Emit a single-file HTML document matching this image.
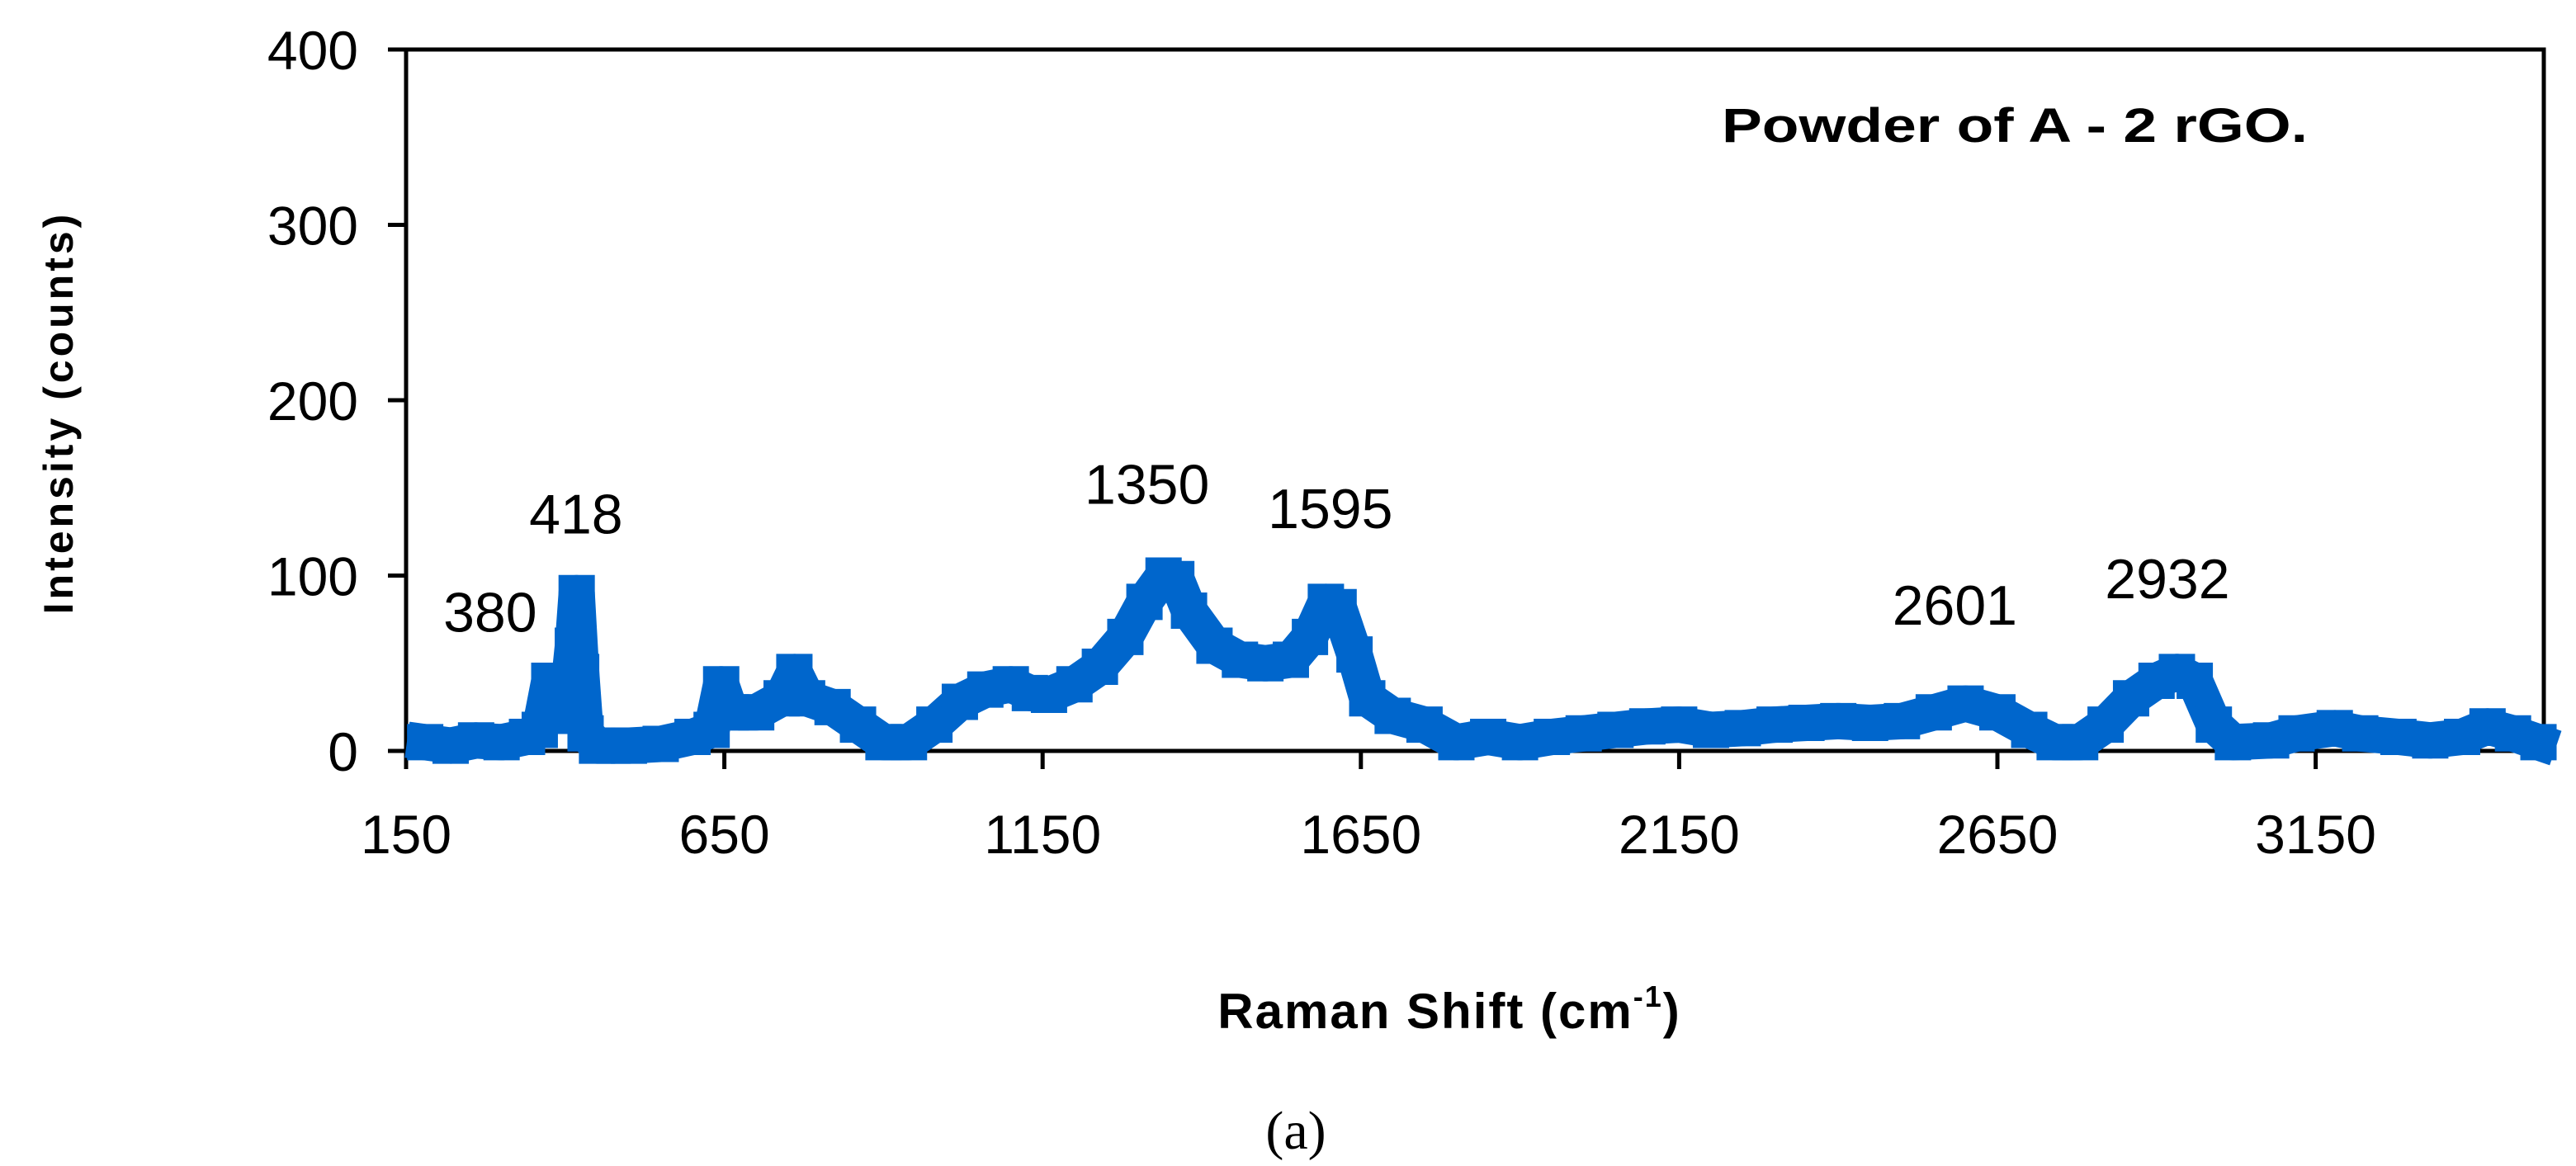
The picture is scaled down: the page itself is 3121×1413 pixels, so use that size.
<!DOCTYPE html>
<html><head><meta charset="utf-8"><style>
body{margin:0;background:#fff;}
svg{display:block;}
.n{font-family:"Liberation Sans Narrow","Liberation Sans",sans-serif;font-size:66px;fill:#000;}
.p{font-family:"Liberation Sans Narrow","Liberation Sans",sans-serif;font-size:68px;fill:#000;}
.b{font-family:"Liberation Sans",sans-serif;font-weight:bold;fill:#000;}
</style></head><body>
<svg id="chart" width="3121" height="1413" viewBox="0 0 3121 1413">
<g id="axes"></g>
<g id="series"></g>
<g id="labels"></g>
<text class="b" x="2086" y="172" font-size="58" textLength="710" lengthAdjust="spacingAndGlyphs">Powder of A - 2 rGO.</text>
<text class="b" x="0" y="0" font-size="50" transform="translate(88,500) rotate(-90)" text-anchor="middle" letter-spacing="4">Intensity (counts)</text>
<text class="b" x="1756" y="1246" font-size="60" text-anchor="middle" letter-spacing="2">Raman Shift (cm<tspan font-size="36" dy="-26">-1</tspan><tspan dy="26">)</tspan></text>
<text x="1570" y="1392" font-family="Liberation Serif,serif" font-size="66" text-anchor="middle">(a)</text>
</svg>
<script>
const xTicks=[150,650,1150,1650,2150,2650,3150];
const yTicks=[0,100,200,300,400];
const xs=[180,220,260,300,340,360,375,385,395,405,412,418,425,432,450,500,550,600,630,645,660,700,740,760,780,820,860,900,940,980,1020,1060,1100,1130,1160,1200,1240,1280,1310,1340,1360,1380,1420,1460,1500,1540,1570,1595,1615,1640,1660,1700,1750,1800,1850,1900,1950,2000,2050,2100,2150,2200,2250,2300,2350,2400,2450,2500,2550,2600,2650,2700,2740,2780,2820,2860,2900,2932,2960,2990,3020,3080,3120,3180,3220,3280,3330,3380,3420,3460,3500];
const ys=[5,3,6,5,8,12,40,30,20,35,60,90,45,10,3,3,4,8,12,38,22,22,30,45,30,25,15,5,5,15,28,35,38,33,32,38,48,65,85,100,98,80,60,52,50,52,65,85,82,55,30,20,15,5,8,5,8,10,12,14,15,12,13,15,16,17,16,17,22,27,22,12,5,5,15,30,40,45,40,15,5,6,10,13,10,8,6,8,14,10,5];
const peakLabels=["380","418","1350","1595","2601","2932"];
const peakX=[282,417,1314,1602,2583,2917];
const peakY=[68,124,141,127,72,87];
const L=492,T=60,R=3082,B=910;
const X=v=>L+(v-150)*385.6/500;
const Y=v=>B-v*2.125;
const NS="http://www.w3.org/2000/svg";
function mk(t,a,p){const e=document.createElementNS(NS,t);for(const k in a)e.setAttribute(k,a[k]);p.appendChild(e);return e;}
const ax=document.getElementById('axes');
let f=mk('path',{d:`M${L} ${T}H${R}V${B}`,fill:'none',stroke:'#000','stroke-width':5},ax);


let la=mk('line',{x1:L,y1:T,x2:L,y2:B+22,stroke:'#000','stroke-width':5},ax);


let ba=mk('line',{x1:L-22,y1:B,x2:R,y2:B,stroke:'#000','stroke-width':5},ax);


xTicks.forEach(v=>{
 const t=mk('line',{x1:X(v),y1:B,x2:X(v),y2:B+22,stroke:'#000','stroke-width':5},ax);
 
 
 const l=mk('text',{x:X(v),y:B+124,'text-anchor':'middle',class:'n'},ax);l.textContent=v;
 
 
});
yTicks.forEach(v=>{
 const t=mk('line',{x1:L-22,y1:Y(v),x2:L,y2:Y(v),stroke:'#000','stroke-width':5},ax);
 
 
 const l=mk('text',{x:434,y:Y(v)+24,'text-anchor':'end',class:'n'},ax);l.textContent=v;
 
 
});
const sg=document.getElementById('series');
const pts=xs.map((x,i)=>X(x).toFixed(1)+','+Y(ys[i]).toFixed(1)).join(' ');
const pl=mk('polyline',{points:pts,fill:'none',stroke:'#0066CC','stroke-width':44,'stroke-linejoin':'round','stroke-linecap':'square'},sg);


xs.forEach((x,i)=>{
 const r=mk('rect',{x:X(x)-22,y:Y(ys[i])-22,width:44,height:44,fill:'#0066CC'},sg);
 
 
});
const lg=document.getElementById('labels');
peakLabels.forEach((s,i)=>{
 const t=mk('text',{x:X(peakX[i]),y:Y(peakY[i]),'text-anchor':'middle',class:'p'},lg);
 t.textContent=s;
 
 
});
</script>
</body></html>
